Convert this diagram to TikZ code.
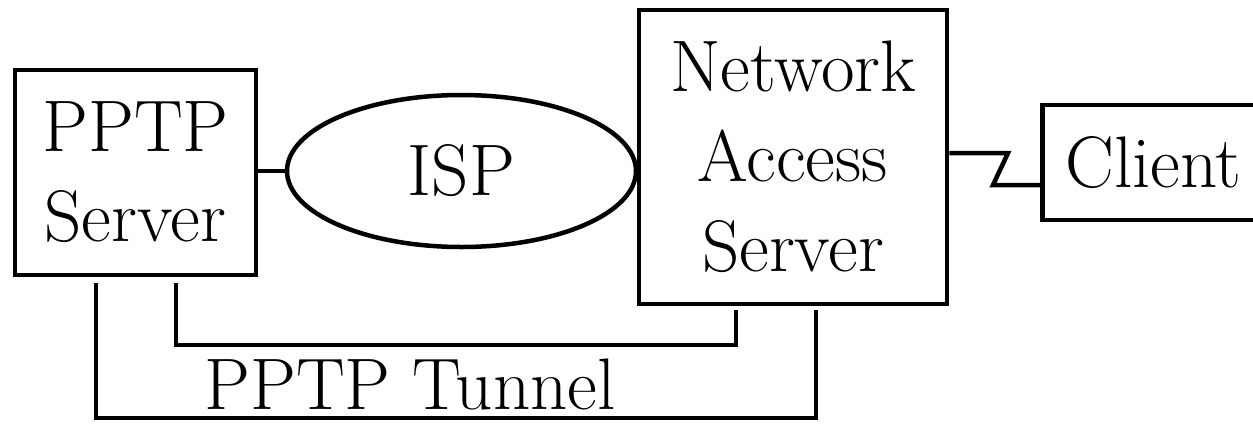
\documentclass[tikz,border=0pt]{standalone}
\usetikzlibrary{shapes.geometric}
\begin{document}
\begin{tikzpicture}[x=1pt, y=-1pt, line width=4.5pt,
    every node/.style={font=\fontsize{73}{90}\selectfont},
    box/.style={draw, rectangle, align=center, inner sep=0pt},
    cloud/.style={draw, ellipse, inner sep=0pt}]
    \useasboundingbox (0,0) rectangle (1253,424);

    % Boxes and the ISP cloud
    \node[box, minimum width=241pt, minimum height=205pt] (pptpsrv) at (135.5,172.5) {PPTP\\Server};
    \node[cloud, minimum width=349pt, minimum height=152pt] (isp) at (461.5,171) {ISP};
    \node[box, minimum width=308pt, minimum height=294pt] (nas) at (793,157) {Network\\Access\\Server};
    \node[box, anchor=west, text width=190pt, align=left, inner xsep=23pt,
        minimum height=115pt] (client) at (1040,162.5) {Client};

    % Links
    \draw (pptpsrv.east |- isp.west) -- (isp.west);
    \coordinate (zz1) at (1008,153);
    \coordinate (zz2) at (993,185);
    \draw (nas.east |- zz1) -- (zz1) -- (zz2) -- (client.west |- zz2);

    % Tunnel lines
    \coordinate (in1) at (176,283);
    \coordinate (in2) at (736,310);
    \coordinate (out1) at (96,283);
    \coordinate (out2) at (816,310);
    \draw (in1) -- (in1 |- 0,345) -- (in2 |- 0,345) -- (in2);
    \draw (out1) -- (out1 |- 0,418) -- (out2 |- 0,418) -- (out2);
    \node (tunnel) at (410,384) {PPTP Tunnel};
\end{tikzpicture}
\end{document}
